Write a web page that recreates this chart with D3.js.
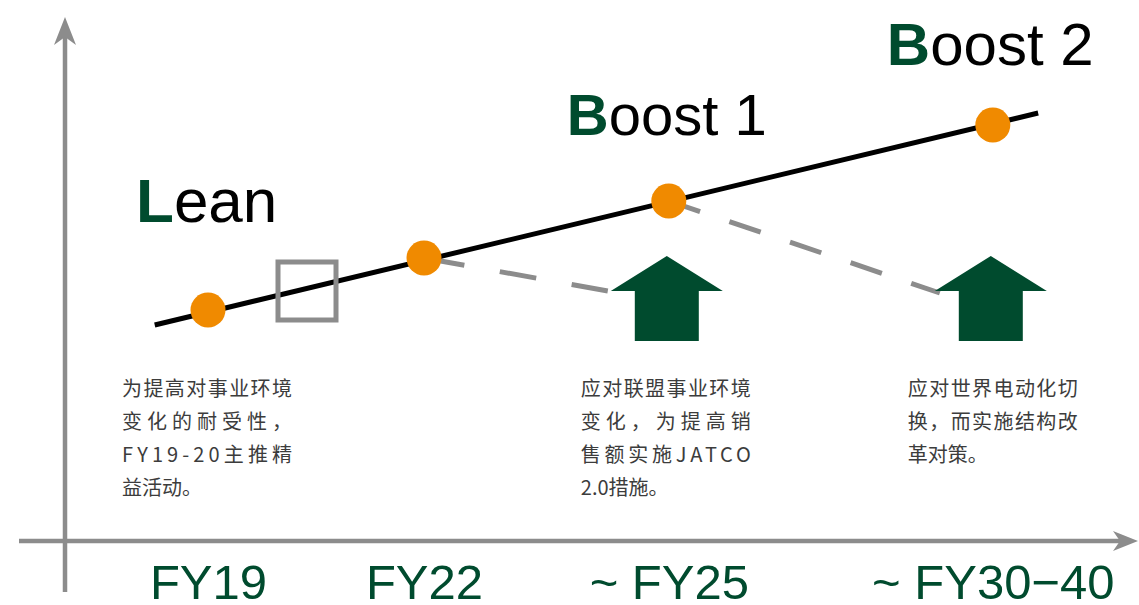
<!DOCTYPE html>
<html>
<head>
<meta charset="utf-8">
<script src="https://cdn.jsdelivr.net/npm/d3@7"></script>
<style>
  html, body { margin: 0; padding: 0; background: #fff; }
  svg { display: block; }
</style>
</head>
<body>
<svg id="chart" width="1139" height="605"></svg>
<script>
// ---------- data ----------
const categories = ["FY19", "FY22", "~ FY25", "~ FY30\u221240"];
const timeline = [19, 22, 25.4, 29.9];           // position on the time axis
const levels = [4.62, 5.66, 6.8, 8.32];           // level of each milestone dot
const trendT = [18.26, 30.53];                    // black trend line start/end (time)
const trendLevel = [4.32, 8.56];                  // black trend line start/end (level)
const squareMarker = { t: 20.375, level: 5.0 };   // gray square marker
const dashFrom = [1, 2];                          // dashed line start (dot index)
const dashToLevel = [5.0, 4.96];                  // dashed line end level (arrow shoulder)
const arrowAt = [2, 3];                           // green arrows under these categories
const arrowLevels = { tip: 5.7, shoulder: 5.0, base: 4.0 };
const stageFirst = ["L", "B", "B"];
const stageRest = ["ean", "oost 1", "oost 2"];
const stageAt = [0, 2, 3];
const descAt = [0, 2, 3];
const descriptions = [
  ["为提高对事业环境", "变化的耐受性，", "FY19-20主推精", "益活动。"],
  ["应对联盟事业环境", "变化，为提高销", "售额实施JATCO", "2.0措施。"],
  ["应对世界电动化切", "换，而实施结构改", "革对策。"]
];

// ---------- setup ----------
const GREEN = "#004b2e", ORANGE = "#f08a00", GRAY = "#8c8c8c", TEXT = "#3c3c3c";
const LATIN = "'Liberation Sans', Arial, sans-serif";
const CJK = "'Noto Sans CJK SC', 'Liberation Sans', sans-serif";

const svg = d3.select("#chart");
const x = d3.scaleLinear().domain([19, 30]).range([208, 1000]);
const y = d3.scaleLinear().domain([0, 10]).range([541, 41]);

// ---------- axes ----------
const axisX0 = 65, axisY0 = y(0);
svg.append("line").attr("x1", axisX0).attr("x2", axisX0)
  .attr("y1", 592).attr("y2", 30)
  .attr("stroke", GRAY).attr("stroke-width", 4.5);
svg.append("path")
  .attr("d", `M${axisX0},17 L${axisX0 + 11},45 L${axisX0},37 L${axisX0 - 11},45 Z`)
  .attr("fill", GRAY);
svg.append("line").attr("x1", 19).attr("x2", 1125)
  .attr("y1", axisY0).attr("y2", axisY0)
  .attr("stroke", GRAY).attr("stroke-width", 4.5);
svg.append("path")
  .attr("d", `M1138,${axisY0} L1113,${axisY0 - 10} L1120,${axisY0} L1113,${axisY0 + 10} Z`)
  .attr("fill", GRAY);

// x tick labels via d3 axis
const xAxis = d3.axisBottom(x)
  .tickValues(timeline)
  .tickFormat((d, i) => categories[i])
  .tickSize(0);
const gx = svg.append("g").attr("transform", `translate(0,${axisY0})`).call(xAxis);
gx.select(".domain").remove();
gx.selectAll("text")
  .attr("dy", 0).attr("y", 58)
  .attr("fill", GREEN)
  .style("font-family", LATIN)
  .style("font-size", "49px");

// ---------- dashed lines ----------
const dashStyles = [["37,36", 69, -61], ["33,31", 0, -53]];
dashFrom.forEach((di, k) => {
  const ai = arrowAt[k];
  const [arr, off, endDx] = dashStyles[k];
  svg.append("line")
    .attr("x1", x(timeline[di])).attr("y1", y(levels[di]))
    .attr("x2", x(timeline[ai]) + endDx).attr("y2", y(dashToLevel[k]))
    .attr("stroke", GRAY).attr("stroke-width", 5)
    .attr("stroke-dasharray", arr)
    .attr("stroke-dashoffset", off);
});

// ---------- green arrows ----------
arrowAt.forEach(ai => {
  const cx = x(timeline[ai]) - 2;
  const yt = y(arrowLevels.tip), ys = y(arrowLevels.shoulder), yb = y(arrowLevels.base);
  const hw = 56, sw = 32;
  svg.append("path")
    .attr("d", `M${cx},${yt} L${cx + hw},${ys} L${cx + sw},${ys} L${cx + sw},${yb} L${cx - sw},${yb} L${cx - sw},${ys} L${cx - hw},${ys} Z`)
    .attr("fill", GREEN);
});

// ---------- trend line ----------
svg.append("line")
  .attr("x1", x(trendT[0])).attr("y1", y(trendLevel[0]))
  .attr("x2", x(trendT[1])).attr("y2", y(trendLevel[1]))
  .attr("stroke", "#000").attr("stroke-width", 5);

// ---------- square marker ----------
svg.append("rect")
  .attr("x", x(squareMarker.t) - 29).attr("y", y(squareMarker.level) - 29)
  .attr("width", 58).attr("height", 58)
  .attr("fill", "none").attr("stroke", GRAY).attr("stroke-width", 5);

// ---------- dots ----------
svg.selectAll("circle.dot").data(timeline).enter().append("circle")
  .attr("class", "dot")
  .attr("cx", d => x(d))
  .attr("cy", (d, i) => y(levels[i]))
  .attr("r", 17.5)
  .attr("fill", ORANGE);

// ---------- stage names ----------
const stageOffsets = [[-72, -88, 62], [-102, -66, 58], [-106, -60, 60]];
stageAt.forEach((ci, k) => {
  const [dx, dy, fs] = stageOffsets[k];
  const t = svg.append("text")
    .attr("x", x(timeline[ci]) + dx)
    .attr("y", y(levels[ci]) + dy)
    .style("font-family", LATIN)
    .style("font-size", fs + "px");
  t.append("tspan").attr("fill", GREEN).style("font-weight", "bold").text(stageFirst[k]);
  t.append("tspan").attr("fill", "#000").text(stageRest[k]);
});

// ---------- descriptions ----------
const descOffsets = [-86, -88, -85];
descAt.forEach((ci, k) => {
  const lines = descriptions[k];
  const x0 = x(timeline[ci]) + descOffsets[k];
  lines.forEach((ln, j) => {
    const t = svg.append("text")
      .attr("x", x0)
      .attr("y", 396 + j * 33)
      .attr("fill", TEXT)
      .style("font-family", CJK)
      .style("font-size", "20px")
      .text(ln);
    if (j < lines.length - 1) {
      t.attr("textLength", 170).attr("lengthAdjust", "spacing");
    }
  });
});
</script>
</body>
</html>
